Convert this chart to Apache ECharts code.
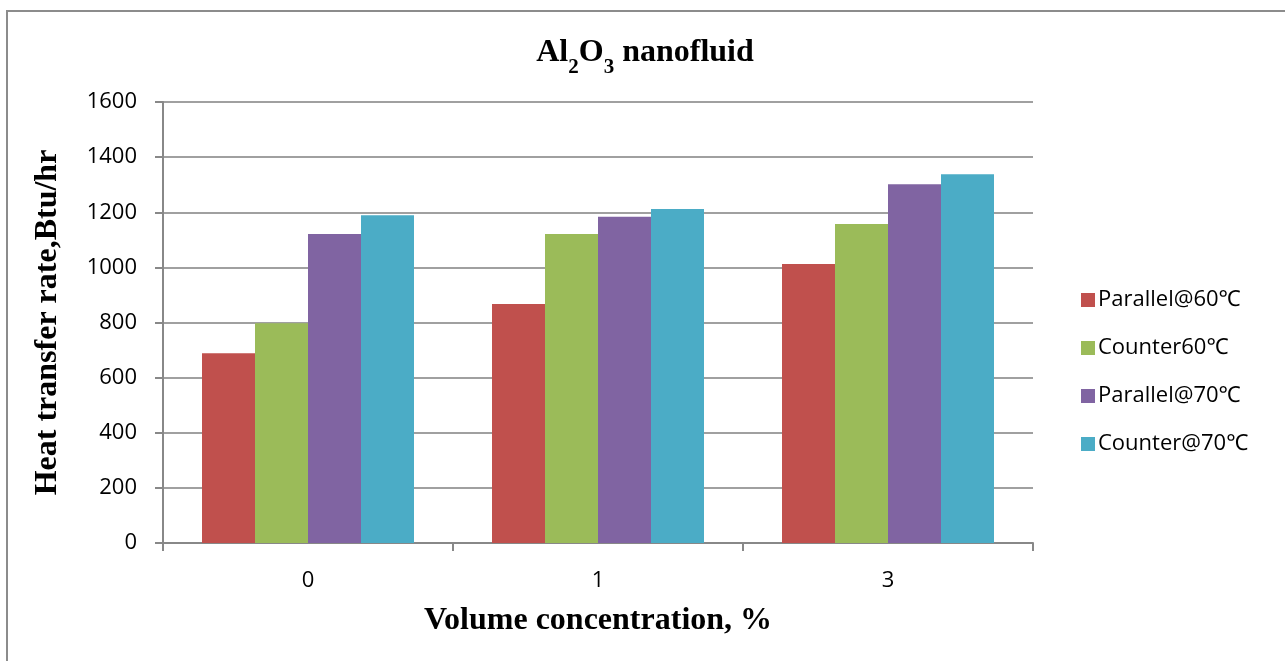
<!DOCTYPE html>
<html>
<head>
<meta charset="utf-8">
<script src="https://cdn.jsdelivr.net/npm/echarts@6/dist/echarts.min.js"></script>
<style>
  html, body { margin: 0; padding: 0; background: #fff; }
  #main { width: 1285px; height: 661px; }
</style>
</head>
<body>
<div id="main"></div>
<script>
// categories and series values
var categories = ['0', '1', '3'];
var parallel60 = [688, 867, 1012];
var counter60 = [797, 1121, 1157];
var parallel70 = [1121, 1184, 1302];
var counter70 = [1189, 1212, 1338];
var seriesNames = ['Parallel@60\u2103', 'Counter60\u2103', 'Parallel@70\u2103', 'Counter@70\u2103'];
var seriesColors = ['#c0504d', '#9bbb59', '#8064a2', '#4bacc6'];

var myChart = echarts.init(document.getElementById('main'));

var labelFont = '"Open Sans", "Noto Sans", sans-serif';
var serifFont = '"Liberation Serif", "DejaVu Serif", serif';

var seriesData = [parallel60, counter60, parallel70, counter70];
var series = [];
for (var i = 0; i < seriesNames.length; i++) {
    series.push({
        name: seriesNames[i],
        type: 'bar',
        barWidth: 53,
        barGap: '0%',
        itemStyle: { color: seriesColors[i] },
        data: seriesData[i]
    });
}

var option = {
    animation: false,
    backgroundColor: '#fff',
    title: {
        text: '{n|Al}{s|2}{n|O}{s|3}{n| nanofluid}',
        left: 640,
        textAlign: 'center',
        top: 24,
        textStyle: {
            rich: {
                n: { fontFamily: serifFont, fontWeight: 'bold', fontSize: 32, color: '#000', verticalAlign: 'bottom', lineHeight: 40 },
                s: { fontFamily: serifFont, fontWeight: 'bold', fontSize: 21, color: '#000', verticalAlign: 'bottom', lineHeight: 40, padding: [0, 0, -9, 0] }
            }
        }
    },
    legend: {
        orient: 'vertical',
        left: 1076,
        top: 283,
        itemWidth: 14,
        itemHeight: 14,
        itemGap: 24,
        icon: 'rect',
        textStyle: { fontFamily: labelFont, fontSize: 22, lineHeight: 24, color: '#000', padding: [0, 0, 0, -2] },
        data: seriesNames
    },
    grid: {
        left: 163,
        right: 252,
        top: 102,
        bottom: 118,
        containLabel: false
    },
    xAxis: {
        type: 'category',
        data: categories,
        name: 'Volume concentration, %',
        nameLocation: 'middle',
        nameGap: 62,
        nameTextStyle: { fontFamily: serifFont, fontWeight: 'bold', fontSize: 32, color: '#000' },
        axisLine: { lineStyle: { color: '#888', width: 2 } },
        axisTick: { show: true, length: 8, lineStyle: { color: '#888', width: 2 } },
        axisLabel: { fontFamily: labelFont, fontSize: 22, color: '#000', margin: 27 }
    },
    yAxis: {
        type: 'value',
        min: 0,
        max: 1600,
        interval: 200,
        name: 'Heat transfer rate,Btu/hr',
        nameLocation: 'middle',
        nameGap: 99,
        nameTextStyle: { fontFamily: serifFont, fontWeight: 'bold', fontSize: 32, color: '#000' },
        axisLine: { show: true, lineStyle: { color: '#888', width: 2 } },
        axisTick: { show: true, length: 8, lineStyle: { color: '#888', width: 2 } },
        axisLabel: {
            fontFamily: labelFont, fontSize: 22, color: '#000', margin: 26,
            formatter: function (v) { return String(v); }
        },
        splitLine: { lineStyle: { color: '#a0a0a0', width: 2 } }
    },
    graphic: [
        { type: 'line', shape: { x1: 7, y1: 11, x2: 7, y2: 661 }, style: { stroke: '#8c8c8c', lineWidth: 2 } },
        { type: 'line', shape: { x1: 6, y1: 11, x2: 1285, y2: 11 }, style: { stroke: '#8c8c8c', lineWidth: 2 } }
    ],
    series: series
};
myChart.setOption(option);
</script>
</body>
</html>
